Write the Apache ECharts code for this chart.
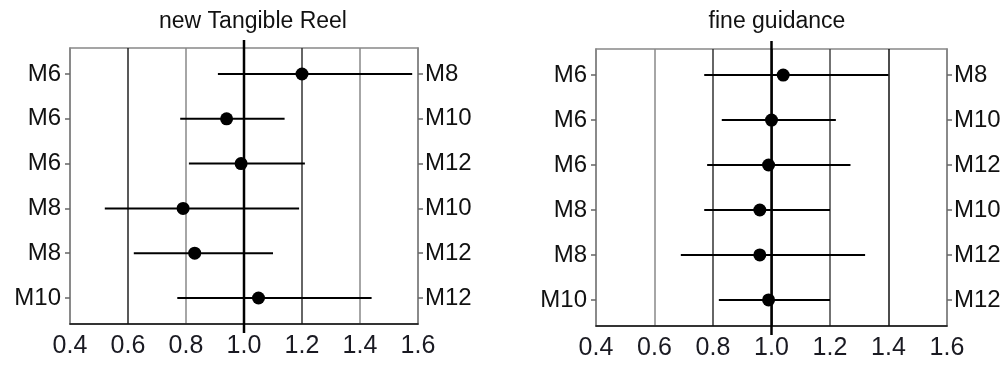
<!DOCTYPE html>
<html>
<head>
<meta charset="utf-8">
<script src="https://cdn.jsdelivr.net/npm/echarts@6/dist/echarts.min.js"></script>
<style>
html,body{margin:0;padding:0;background:#fff;}
#main{width:1006px;height:365px;}
</style>
</head>
<body>
<div id="main"></div>
<script>
// data
var leftLabels = ['M6', 'M6', 'M6', 'M8', 'M8', 'M10'];
var rightLabels = ['M8', 'M10', 'M12', 'M10', 'M12', 'M12'];
var xTicks = [0.4, 0.6, 0.8, 1.0, 1.2, 1.4, 1.6];
var titles = ['new Tangible Reel', 'fine guidance'];

var reelEst = [1.20, 0.94, 0.99, 0.79, 0.83, 1.05];
var reelLow = [0.91, 0.78, 0.81, 0.52, 0.62, 0.77];
var reelHigh = [1.58, 1.14, 1.21, 1.19, 1.10, 1.44];

var fineEst = [1.04, 1.00, 0.99, 0.96, 0.96, 0.99];
var fineLow = [0.77, 0.83, 0.78, 0.77, 0.69, 0.82];
var fineHigh = [1.40, 1.22, 1.27, 1.20, 1.32, 1.20];

var rows = [1, 2, 3, 4, 5, 6];
var font = 'Liberation Sans, Arial, sans-serif';

var chart = echarts.init(document.getElementById('main'));

// x axis for one panel
function makeX(grid, colors) {
    return {
        type: 'value', gridIndex: grid,
        min: xTicks[0], max: xTicks[xTicks.length - 1], interval: 0.2,
        axisLine: {show: true, onZero: false, lineStyle: {color: '#111', width: 1.5}},
        axisTick: {show: false},
        splitLine: {show: true, lineStyle: {color: colors, width: 1.5}},
        axisLabel: {
            color: '#1a1a22', fontSize: 25, fontFamily: font, margin: 10,
            formatter: function (v) { return v.toFixed(1); }
        }
    };
}
// y axis (left or right labels)
function makeY(grid, pos, labels) {
    return {
        type: 'value', gridIndex: grid, position: pos, inverse: true,
        min: 0.42, max: 6.58,
        axisLine: {show: true, lineStyle: {color: '#888', width: 1.5}},
        axisTick: {show: true, customValues: rows, length: 5, lineStyle: {color: '#666', width: 1.5}},
        splitLine: {show: false},
        axisLabel: {
            customValues: rows, color: '#111', fontSize: 24, fontFamily: font, margin: pos === 'left' ? 9 : 7,
            formatter: function (v) { return labels[Math.round(v) - 1]; }
        }
    };
}
// error bar lines
function barSeries(idx, low, high) {
    return {
        type: 'custom', xAxisIndex: idx, yAxisIndex: idx * 2,
        data: rows.map(function (r, i) { return [low[i], high[i], r]; }),
        renderItem: function (params, api) {
            var a = api.coord([api.value(0), api.value(2)]);
            var b = api.coord([api.value(1), api.value(2)]);
            return {type: 'line', shape: {x1: a[0], y1: a[1], x2: b[0], y2: b[1]},
                style: {stroke: '#000', lineWidth: 2}};
        },
        z: 3
    };
}
// thick line at 1.0, sticking out a bit above and below the box
function refSeries(idx) {
    return {
        type: 'custom', xAxisIndex: idx, yAxisIndex: idx * 2, clip: false,
        data: [[1.0]],
        renderItem: function (params, api) {
            var top = api.coord([api.value(0), 0.42]);
            var bot = api.coord([api.value(0), 6.58]);
            return {type: 'line', shape: {x1: top[0], y1: top[1] - 8, x2: bot[0], y2: bot[1] + 9},
                style: {stroke: '#000', lineWidth: 2.5}};
        },
        z: 2
    };
}
function dotSeries(idx, est) {
    return {
        type: 'scatter', xAxisIndex: idx, yAxisIndex: idx * 2,
        data: rows.map(function (r, i) { return [est[i], r]; }),
        symbolSize: 13, itemStyle: {color: '#000', opacity: 1}, z: 4
    };
}

var option = {
    animation: false,
    title: [
        {text: titles[0], left: 248, top: 5, textAlign: 'center',
            textStyle: {fontSize: 23, fontWeight: 'normal', color: '#111', fontFamily: font}},
        {text: titles[1], left: 772, top: 5, textAlign: 'center',
            textStyle: {fontSize: 23, fontWeight: 'normal', color: '#111', fontFamily: font}}
    ],
    grid: [
        {left: 70, top: 48, width: 348, height: 276, show: true, borderColor: '#888', borderWidth: 1.5},
        {left: 596, top: 49, width: 351, height: 277, show: true, borderColor: '#888', borderWidth: 1.5}
    ],
    xAxis: [
        makeX(0, ['#888', '#222', '#888', '#222', '#333', '#888', '#888']),
        makeX(1, ['#888', '#888', '#333', '#222', '#444', '#111', '#888'])
    ],
    yAxis: [
        makeY(0, 'left', leftLabels), makeY(0, 'right', rightLabels),
        makeY(1, 'left', leftLabels), makeY(1, 'right', rightLabels)
    ],
    series: [
        refSeries(0), barSeries(0, reelLow, reelHigh), dotSeries(0, reelEst),
        refSeries(1), barSeries(1, fineLow, fineHigh), dotSeries(1, fineEst)
    ]
};
chart.setOption(option);
</script>
</body>
</html>
